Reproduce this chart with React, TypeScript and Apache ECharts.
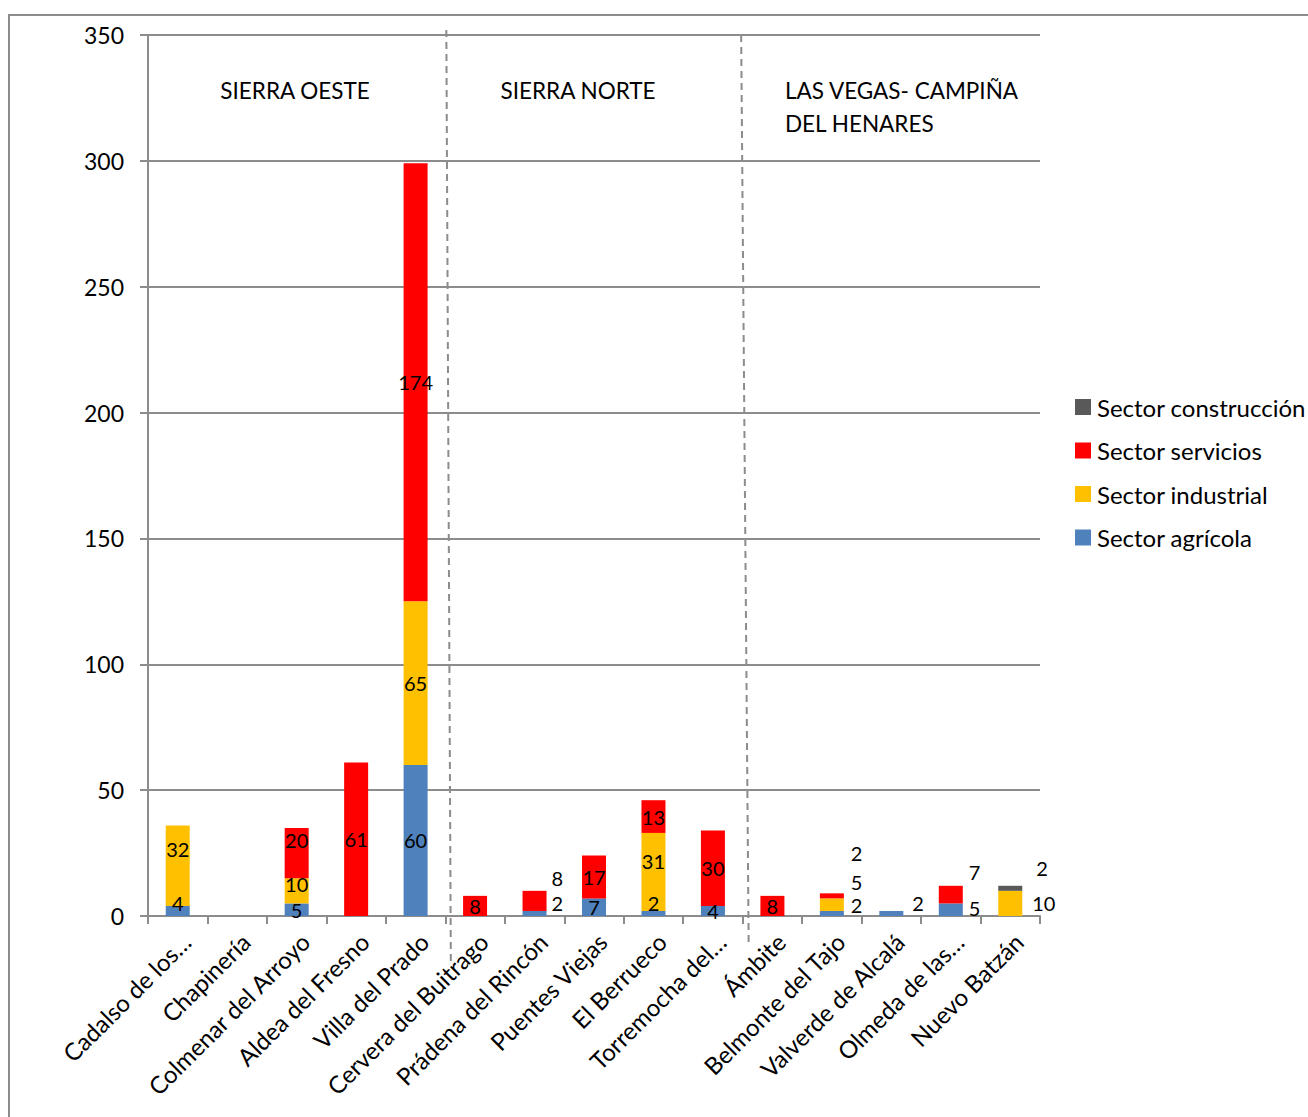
import React, { useEffect, useRef } from "react";
import * as echarts from "echarts";

const categories = [
  "Cadalso de los…",
  "Chapinería",
  "Colmenar del Arroyo",
  "Aldea del Fresno",
  "Villa del Prado",
  "Cervera del Buitrago",
  "Prádena del Rincón",
  "Puentes Viejas",
  "El Berrueco",
  "Torremocha del…",
  "Ámbite",
  "Belmonte del Tajo",
  "Valverde de Alcalá",
  "Olmeda de las…",
  "Nuevo Batzán",
];

const agricola = [4, 0, 5, 0, 60, 0, 2, 7, 2, 4, 0, 2, 2, 5, 0];
const industrial = [32, 0, 10, 0, 65, 0, 0, 0, 31, 0, 0, 5, 0, 0, 10];
const servicios = [0, 0, 20, 61, 174, 8, 8, 17, 13, 30, 8, 2, 0, 7, 0];
const construccion = [0, 0, 0, 0, 0, 0, 0, 0, 0, 0, 0, 0, 0, 0, 2];

const yTicks = [0, 50, 100, 150, 200, 250, 300, 350];

const regions = ["SIERRA OESTE", "SIERRA NORTE", "LAS VEGAS- CAMPIÑA\nDEL HENARES"];

// label style adjustments (index -> [position, dx, dy])
const labelAdjust: Record<string, Record<number, [string, number, number]>> = {
  agri: {
    0: ["inside", 0, -8],
    6: ["right", 5, -10],
    8: ["inside", 0, -10],
    11: ["right", 7, -8],
    12: ["right", 9, -10],
    13: ["right", 6, -2],
  },
  ind: {
    0: ["inside", 0, -17],
    2: ["inside", 0, -7],
    8: ["inside", 0, -11],
    11: ["right", 7, -23],
    14: ["right", 10, 0],
  },
  serv: {
    2: ["inside", 0, -13],
    6: ["right", 5, -23],
    11: ["right", 7, -43],
    13: ["right", 6, -23],
  },
  cons: {
    14: ["right", 14, -20],
  },
};

const FONT = "Lato, 'Open Sans', sans-serif";

function buildData(values: number[], key: string) {
  return values.map((v, i) => {
    if (!v) return null;
    const adj = labelAdjust[key][i];
    if (!adj) return v;
    return {
      value: v,
      label: { position: adj[0], offset: [adj[1], adj[2]], distance: 0 },
    };
  });
}

export default function App() {
  const ref = useRef<HTMLDivElement>(null);
  useEffect(() => {
    if (!ref.current) return;
    const chart = echarts.init(ref.current, null, { renderer: "svg" });
    const gridLeft = 148;
    const gridTop = 35;
    const gridWidth = 892;
    const gridHeight = 881;
    const catW = gridWidth / categories.length;

    const mkSeries = (name: string, key: string, values: number[], color: string) => ({
      name,
      type: "bar",
      stack: "total",
      barWidth: 24,
      data: buildData(values, key),
      itemStyle: { color },
      label: {
        show: true,
        position: "inside",
        color: "#000",
        fontFamily: FONT,
        fontSize: 20,
        formatter: (p: any) => (p.value ? String(p.value) : ""),
      },
    });

    chart.setOption({
      animation: false,
      backgroundColor: "#fff",
      textStyle: { fontFamily: FONT },
      grid: { left: gridLeft, top: gridTop, width: gridWidth, height: gridHeight, containLabel: false },
      legend: {
        orient: "vertical",
        left: 1075,
        top: 395,
        padding: 0,
        icon: "rect",
        itemWidth: 16,
        itemHeight: 16,
        itemGap: 19.5,
        data: ["Sector construcción", "Sector servicios", "Sector industrial", "Sector agrícola"],
        textStyle: { fontFamily: FONT, fontSize: 24, color: "#000", padding: [0, 0, 0, 1] },
      },
      xAxis: {
        type: "category",
        data: categories,
        axisLine: { lineStyle: { color: "#8c8c8c", width: 2 } },
        axisTick: { show: true, length: 8, lineStyle: { color: "#8c8c8c", width: 2 } },
        axisLabel: {
          rotate: 45,
          interval: 0,
          fontFamily: FONT,
          fontSize: 24,
          color: "#000",
          margin: 13,
          verticalAlign: "top",
        },
      },
      yAxis: {
        type: "value",
        min: 0,
        max: yTicks[yTicks.length - 1],
        interval: yTicks[1] - yTicks[0],
        axisLine: { show: true, lineStyle: { color: "#8c8c8c", width: 2 } },
        axisTick: { show: true, length: 8, lineStyle: { color: "#8c8c8c", width: 2 } },
        splitLine: { lineStyle: { color: "#8c8c8c", width: 2 } },
        axisLabel: { fontFamily: FONT, fontSize: 23, color: "#000", margin: 24 },
      },
      graphic: [
        {
          type: "rect",
          shape: { x: 9, y: 15, width: 1500, height: 1300 },
          style: { fill: "none", stroke: "#8c8c8c", lineWidth: 2 },
          silent: true,
        },
        {
          type: "line",
          shape: { x1: gridLeft + catW * 5 + 1, y1: 30, x2: gridLeft + catW * 5 + 5.5, y2: 963 },
          style: { stroke: "#8c8c8c", lineWidth: 2, lineDash: [7, 5] },
          silent: true,
        },
        {
          type: "line",
          shape: { x1: gridLeft + catW * 10 - 1.5, y1: 35, x2: gridLeft + catW * 10 + 6, y2: 945 },
          style: { stroke: "#8c8c8c", lineWidth: 2, lineDash: [7, 5] },
          silent: true,
        },
        {
          type: "text",
          x: 295,
          y: 90,
          style: { text: regions[0], fontFamily: FONT, fontSize: 22.5, fill: "#000", align: "center", verticalAlign: "middle" },
        },
        {
          type: "text",
          x: 578,
          y: 90,
          style: { text: regions[1], fontFamily: FONT, fontSize: 22.5, fill: "#000", align: "center", verticalAlign: "middle" },
        },
        {
          type: "text",
          x: 785,
          y: 74,
          style: { text: regions[2], fontFamily: FONT, fontSize: 22.5, lineHeight: 33, fill: "#000", align: "left", verticalAlign: "top" },
        },
      ],
      series: [
        mkSeries("Sector agrícola", "agri", agricola, "#4F81BD"),
        mkSeries("Sector industrial", "ind", industrial, "#FFC000"),
        mkSeries("Sector servicios", "serv", servicios, "#FF0000"),
        mkSeries("Sector construcción", "cons", construccion, "#595959"),
      ],
    });
    return () => chart.dispose();
  }, []);
  return (
    <div
      ref={ref}
      style={{ position: "fixed", left: 0, top: 0, width: 1308, height: 1117, background: "#fff" }}
    />
  );
}
